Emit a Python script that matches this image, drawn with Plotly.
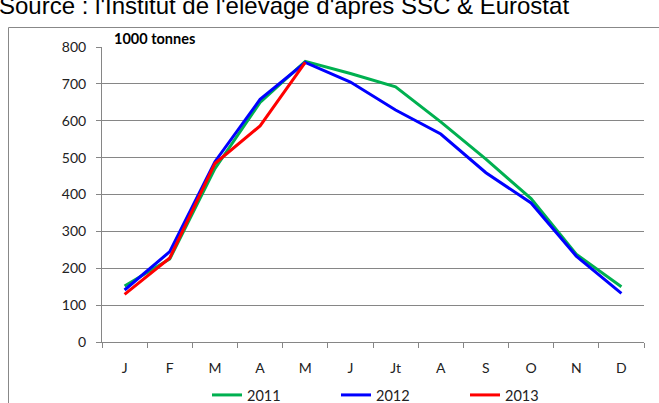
import plotly.graph_objects as go

months = ["J", "F", "M", "A", "M ", "J ", "Jt", "A ", "S", "O", "N", "D"]
month_labels = ["J", "F", "M", "A", "M", "J", "Jt", "A", "S", "O", "N", "D"]
y2011 = [152, 225, 470, 650, 761, 728, 692, 597, 496, 389, 238, 150]
y2012 = [141, 245, 489, 658, 758, 705, 629, 564, 459, 377, 233, 132]
y2013 = [129, 228, 484, 586, 758]
series_names = ["2011", "2012", "2013"]
colors = ["#00B050", "#0000FF", "#FF0000"]
yticks = [0, 100, 200, 300, 400, 500, 600, 700, 800]

FONT = "Lato"
W, H = 659, 403
# plot area in screen pixels: x 102..644, y 47..342
L, T = 102, 47
R = W - 644
B = H - 342
pw, ph = W - L - R, H - T - B

def px_x(p):  # screen pixel -> paper x
    return (p - L) / pw

def px_y(p):  # screen pixel -> paper y
    return (H - B - p) / ph

fig = go.Figure()
for name, vals, col in zip(series_names, [y2011, y2012, y2013], colors):
    fig.add_trace(go.Scatter(
        x=months[:len(vals)], y=vals, name=name, mode="lines",
        line=dict(color=col, width=3),
    ))

fig.update_layout(
    width=W, height=H,
    margin=dict(l=L, r=R, t=T, b=B, autoexpand=False),
    paper_bgcolor="white", plot_bgcolor="white",
    font=dict(family=FONT, size=14, color="#222222"),
    showlegend=True,
    legend=dict(
        orientation="h", x=px_x(207), xanchor="left", y=px_y(395), yanchor="middle",
        font=dict(family=FONT, size=14.5, color="#222222"),
        entrywidth=84, entrywidthmode="pixels",
        traceorder="normal", bgcolor="rgba(0,0,0,0)",
    ),
    xaxis=dict(
        type="category", categoryorder="array", categoryarray=months,
        tickmode="array", tickvals=months, ticktext=month_labels,
        tickson="boundaries", ticks="outside", ticklen=5, tickcolor="#868686",
        showline=True, linecolor="#868686", linewidth=1,
        showgrid=False, range=[-0.5, 11.5], ticklabelstandoff=13,
        fixedrange=True,
    ),
    yaxis=dict(
        range=[0, 800], tickvals=yticks, ticks="outside", ticklen=5,
        tickcolor="#868686", showline=True, linecolor="#868686", linewidth=1,
        showgrid=True, gridcolor="#868686", gridwidth=1, zeroline=False,
        ticklabelstandoff=7, fixedrange=True,
    ),
    shapes=[dict(
        type="rect", xref="paper", yref="paper",
        x0=px_x(8.5), x1=px_x(720), y0=px_y(460), y1=px_y(27.5),
        line=dict(color="#888888", width=1), layer="below",
    )],
    annotations=[
        dict(text="<b>1000 tonnes</b>", xref="paper", yref="paper",
             x=px_x(112), y=px_y(38.5), xanchor="left", yanchor="middle",
             showarrow=False, font=dict(family=FONT, size=14.5, color="#000000")),
        dict(text="Source : l'Institut de l'élevage d'après SSC & Eurostat",
             xref="paper", yref="paper", x=px_x(-3), y=px_y(6),
             xanchor="left", yanchor="middle", showarrow=False,
             font=dict(family="Liberation Sans", size=24, color="#000000")),
    ],
)

fig.write_html("out.html", config={"displayModeBar": False},
               post_script="document.body.style.margin='0';")
